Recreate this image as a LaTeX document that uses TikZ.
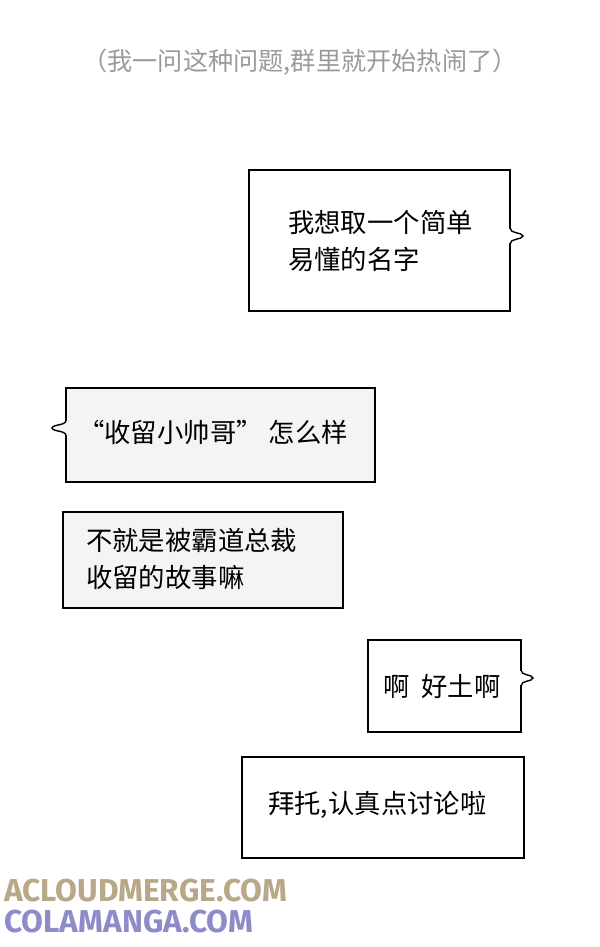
\documentclass[tikz,border=0pt]{standalone}
\usepackage{fontspec}
\setmainfont{Liberation Sans}
\newfontfamily\cjk{Noto Sans CJK SC}
\newfontfamily\wmfont{Fira Sans}
\usetikzlibrary{positioning}
\definecolor{bubblegray}{HTML}{F4F4F4}
\definecolor{topgray}{HTML}{9A9A9A}
\definecolor{wmtan}{HTML}{B8A888}
\definecolor{wmblue}{HTML}{8C8CC8}
\tikzset{
  bubble/.style={draw=black, line width=1.2pt, rectangle, inner sep=0pt},
  say/.style={anchor=west, align=left, font=\cjk\fontsize{22.5}{32}\selectfont, inner sep=0pt},
  wmark/.style={anchor=west, inner sep=0pt, font=\wmfont\bfseries\fontsize{27}{27}\selectfont}
}
\begin{document}
\begin{tikzpicture}[x=0.3mm,y=-0.3mm]
  \useasboundingbox (0,0) rectangle (600,947);
  % caption
  \node[font=\cjk\fontsize{21.5}{21.5}\selectfont, text=topgray] (top) at (300,62) {（我一问这种问题,群里就开始热闹了）};

  % bubbles
  \path[bubble, fill=white] (249,170) rectangle (510,311);
  \draw[white, line width=1.6pt] (510,229) -- (510,243);
  \draw[line width=1.2pt, fill=white] (510,228) .. controls (510,234) and (522,232) .. (523,236) .. controls (522,240) and (510,238) .. (510,244);
  \node[say] (b1) at (288,241) {我想取一个简单\\易懂的名字};

  \path[bubble, fill=bubblegray] (66,388) rectangle (375,482);
  \draw[bubblegray, line width=1.6pt] (66,421) -- (66,435);
  \draw[line width=1.2pt, fill=bubblegray] (66,420) .. controls (66,426) and (53,424) .. (52,428) .. controls (53,432) and (66,430) .. (66,436);
  \node[say] (b2) at (78,432) {“收留小帅哥” 怎么样};

  \path[bubble, fill=bubblegray] (63,512) rectangle (343,608);
  \node[say] (b3) at (86,559) {不就是被霸道总裁\\收留的故事嘛};

  \path[bubble, fill=white] (368,640) rectangle (521,732);
  \draw[white, line width=1.6pt] (521,671) -- (521,685);
  \draw[line width=1.2pt, fill=white] (521,670) .. controls (521,676) and (532,674) .. (533,678) .. controls (532,682) and (521,680) .. (521,686);
  \node[say] (b4) at (383,686) {啊\ \ 好土啊};

  \path[bubble, fill=white] (242,757) rectangle (524,858);
  \node[say] (b5) at (268,805) {拜托,认真点讨论啦};

  % watermark
  \node[wmark, text=wmtan] (wm1) at (4,891) {ACLOUDMERGE.COM};
  \node[wmark, text=wmblue] (wm2) at (4,922) {COLAMANGA.COM};
\end{tikzpicture}
\end{document}
